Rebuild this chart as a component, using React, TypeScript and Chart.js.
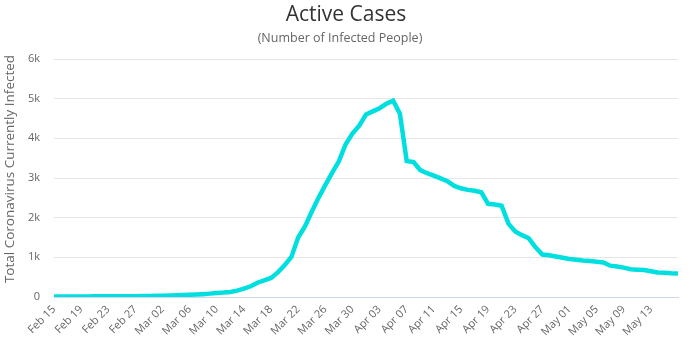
import React, { useEffect, useRef } from "react";
import { Chart, registerables } from "chart.js";

Chart.register(...registerables);

const titleText = "Active Cases";
const subtitleText = "(Number of Infected People)";
const yAxisTitle = "Total Coronavirus Currently Infected";

const dates: string[] = [
  "Feb 15", "Feb 16", "Feb 17", "Feb 18", "Feb 19", "Feb 20", "Feb 21", "Feb 22", "Feb 23", "Feb 24",
  "Feb 25", "Feb 26", "Feb 27", "Feb 28", "Feb 29", "Mar 01", "Mar 02", "Mar 03", "Mar 04", "Mar 05",
  "Mar 06", "Mar 07", "Mar 08", "Mar 09", "Mar 10", "Mar 11", "Mar 12", "Mar 13", "Mar 14", "Mar 15",
  "Mar 16", "Mar 17", "Mar 18", "Mar 19", "Mar 20", "Mar 21", "Mar 22", "Mar 23", "Mar 24", "Mar 25",
  "Mar 26", "Mar 27", "Mar 28", "Mar 29", "Mar 30", "Mar 31", "Apr 01", "Apr 02", "Apr 03", "Apr 04",
  "Apr 05", "Apr 06", "Apr 07", "Apr 08", "Apr 09", "Apr 10", "Apr 11", "Apr 12", "Apr 13", "Apr 14",
  "Apr 15", "Apr 16", "Apr 17", "Apr 18", "Apr 19", "Apr 20", "Apr 21", "Apr 22", "Apr 23", "Apr 24",
  "Apr 25", "Apr 26", "Apr 27", "Apr 28", "Apr 29", "Apr 30", "May 01", "May 02", "May 03", "May 04",
  "May 05", "May 06", "May 07", "May 08", "May 09", "May 10", "May 11", "May 12", "May 13", "May 14",
  "May 15", "May 16", "May 17",
];

const activeCases: number[] = [
  10, 10, 12, 12, 14, 14, 16, 16, 18, 18,
  20, 20, 22, 24, 26, 30, 34, 38, 42, 48,
  55, 62, 72, 85, 100, 112, 128, 160, 210, 270,
  360, 420, 480, 620, 800, 1010, 1500, 1780, 2150, 2500,
  2820, 3130, 3420, 3850, 4120, 4320, 4600, 4680, 4760, 4870,
  4950, 4620, 3430, 3400, 3200, 3120, 3060, 2990, 2920, 2800,
  2740, 2700, 2680, 2640, 2350, 2330, 2300, 1850, 1650, 1560,
  1480, 1250, 1070, 1050, 1020, 990, 960, 940, 920, 905,
  890, 870, 790, 770, 740, 700, 690, 680, 650, 620,
  610, 600, 595,
];

const yTickValues: number[] = [0, 1000, 2000, 3000, 4000, 5000, 6000];
const yTickLabels: string[] = ["0", "1k", "2k", "3k", "4k", "5k", "6k"];
const lastLabelIndex = 88;

const FONT = "'Open Sans', sans-serif";

const titlePlugin = {
  id: "titles",
  afterDraw(chart: any) {
    const ctx = chart.ctx;
    ctx.save();
    ctx.textAlign = "center";
    ctx.textBaseline = "middle";
    ctx.fillStyle = "#333333";
    ctx.font = `500 21px ${FONT}`;
    ctx.fillText(titleText, 346, 15);
    ctx.fillStyle = "#666666";
    ctx.font = `12.5px ${FONT}`;
    ctx.fillText(subtitleText, 340, 38);
    ctx.translate(10, 169);
    ctx.rotate(-Math.PI / 2);
    ctx.font = `13.5px ${FONT}`;
    ctx.fillText(yAxisTitle, 0, 0);
    ctx.restore();
  },
};

export default function App() {
  const ref = useRef<HTMLCanvasElement | null>(null);
  useEffect(() => {
    if (!ref.current) return;
    const chart = new Chart(ref.current, {
      type: "line",
      data: {
        labels: dates,
        datasets: [
          {
            data: activeCases,
            borderColor: "#00dfdf",
            borderWidth: 4.5,
            pointRadius: 0,
            tension: 0,
            fill: false,
          },
        ],
      },
      options: {
        responsive: false,
        animation: false,
        layout: { padding: { top: 59, right: 14, left: 0, bottom: 0 } },
        plugins: {
          legend: { display: false },
          title: { display: false },
          tooltip: { enabled: false },
        },
        scales: {
          x: {
            type: "category",
            offset: false,
            grid: { display: false, drawTicks: false },
            border: { display: true, color: "#ccd6eb", width: 1 },
            ticks: {
              autoSkip: false,
              maxRotation: 45,
              minRotation: 45,
              padding: 6,
              color: "#666666",
              font: { family: FONT, size: 11 },
              callback: (_v: any, i: number) =>
                i % 4 === 0 && i <= lastLabelIndex ? dates[i] : null,
            },
            afterFit: (scale: any) => {
              scale.height = 54;
            },
          },
          y: {
            min: 0,
            max: 6000,
            grid: { color: "#e6e6e6", drawTicks: false },
            border: { display: false },
            afterBuildTicks: (scale: any) => {
              scale.ticks = yTickValues.map((v) => ({ value: v }));
            },
            ticks: {
              padding: 14,
              color: "#666666",
              font: { family: FONT, size: 11 },
              callback: (v: any) => yTickLabels[yTickValues.indexOf(Number(v))],
            },
            afterFit: (scale: any) => {
              scale.width = 54;
            },
          },
        },
      },
      plugins: [titlePlugin],
    });
    return () => chart.destroy();
  }, []);
  return (
    <div style={{ position: "fixed", left: 0, top: 0, width: 692, height: 351, background: "#fff" }}>
      <canvas ref={ref} width={692} height={351} />
    </div>
  );
}
